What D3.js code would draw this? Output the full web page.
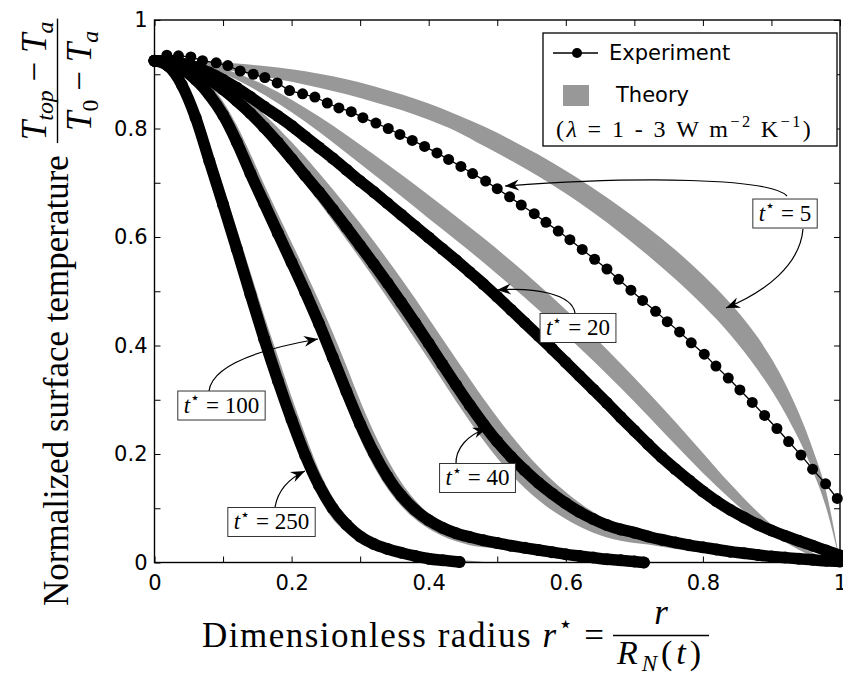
<!DOCTYPE html>
<html>
<head>
<meta charset="utf-8">
<script src="https://cdn.jsdelivr.net/npm/d3@7/dist/d3.min.js"></script>
<style>
html,body{margin:0;padding:0;background:#fff;}
svg{display:block;}
</style>
</head>
<body>
<svg id="chart" width="843" height="679"></svg>
<script>
// ---------------- data ----------------
const xTickValues = [0,0.1,0.2,0.3,0.4,0.5,0.6,0.7,0.8,0.9,1];
const xTickLabels = ["0","","0.2","","0.4","","0.6","","0.8","","1"];
const yTickValues = [0,0.1,0.2,0.3,0.4,0.5,0.6,0.7,0.8,0.9,1];
const yTickLabels = ["0","","0.2","","0.4","","0.6","","0.8","","1"];

// experiment t* = 5 (individual markers)
const exp5R = [0.001,0.018,0.035,0.053,0.070,0.090,0.107,0.125,0.144,0.161,0.179,0.197,0.216,0.234,0.252,0.269,0.287,0.304,0.323,0.341,0.358,0.376,0.394,0.412,0.429,0.447,0.464,0.483,0.500,0.518,0.535,0.554,0.571,0.589,0.606,0.624,0.642,0.660,0.677,0.695,0.712,0.731,0.748,0.766,0.783,0.802,0.819,0.837,0.854,0.872,0.890,0.908,0.925,0.943,0.960,0.979,0.996];
const exp5T = [0.925,0.935,0.934,0.932,0.925,0.921,0.916,0.906,0.900,0.894,0.884,0.870,0.864,0.858,0.847,0.838,0.831,0.820,0.810,0.800,0.789,0.778,0.767,0.755,0.743,0.730,0.717,0.703,0.689,0.674,0.659,0.643,0.627,0.611,0.595,0.577,0.559,0.541,0.522,0.502,0.483,0.463,0.444,0.425,0.405,0.384,0.362,0.340,0.318,0.295,0.271,0.247,0.223,0.198,0.172,0.145,0.118];

// dense experiments
const rGrid = [0,0.02,0.04,0.06,0.08,0.10,0.12,0.14,0.16,0.18,0.20,0.22,0.24,0.26,0.28,0.30,0.32,0.34,0.36,0.38,0.40,0.42,0.44,0.46,0.48,0.50,0.52,0.54,0.56,0.58,0.60,0.62,0.64,0.66,0.68,0.70,0.72,0.74,0.76,0.78,0.80,0.82,0.84,0.86,0.88,0.90,0.92,0.94,0.96,0.98,1.0];
const exp20T = [0.925,0.924,0.92,0.913,0.903,0.89,0.875,0.858,0.84,0.823,0.805,0.785,0.765,0.745,0.724,0.703,0.683,0.662,0.641,0.62,0.599,0.578,0.557,0.535,0.513,0.49,0.466,0.442,0.418,0.394,0.369,0.344,0.319,0.294,0.268,0.243,0.218,0.194,0.172,0.151,0.131,0.113,0.097,0.083,0.07,0.059,0.049,0.04,0.031,0.022,0.013];
const exp40T = [0.925,0.922,0.915,0.905,0.89,0.872,0.851,0.828,0.802,0.774,0.744,0.713,0.683,0.651,0.618,0.584,0.55,0.515,0.479,0.442,0.404,0.365,0.327,0.29,0.255,0.223,0.195,0.17,0.147,0.127,0.109,0.093,0.08,0.069,0.061,0.055,0.048,0.042,0.037,0.032,0.028,0.024,0.02,0.017,0.014,0.011,0.009,0.007,0.005,0.003,0.002];
const exp100R = [0,0.02,0.04,0.06,0.08,0.10,0.12,0.14,0.16,0.18,0.20,0.22,0.24,0.26,0.28,0.30,0.32,0.34,0.36,0.38,0.40,0.42,0.44,0.46,0.48,0.50,0.52,0.54,0.56,0.58,0.60,0.62,0.64,0.66,0.68,0.70,0.714];
const exp100T = [0.925,0.921,0.91,0.89,0.862,0.825,0.775,0.717,0.662,0.607,0.553,0.498,0.44,0.378,0.315,0.255,0.202,0.158,0.123,0.097,0.078,0.064,0.054,0.047,0.041,0.036,0.031,0.027,0.023,0.019,0.015,0.012,0.009,0.006,0.004,0.002,0.0];
const exp250R = [0,0.02,0.04,0.06,0.08,0.10,0.12,0.14,0.16,0.18,0.20,0.22,0.24,0.26,0.28,0.30,0.32,0.34,0.36,0.38,0.40,0.42,0.445];
const exp250T = [0.925,0.915,0.88,0.82,0.74,0.66,0.578,0.494,0.412,0.335,0.263,0.197,0.142,0.1,0.07,0.048,0.034,0.025,0.018,0.012,0.007,0.004,0.001];

// theory bands (lambda = 1 .. 3)
const band5R = [0,0.04,0.08,0.12,0.16,0.20,0.24,0.28,0.32,0.36,0.40,0.44,0.48,0.52,0.56,0.60,0.64,0.68,0.72,0.76,0.80,0.84,0.88,0.92,0.96,0.98,1.0];
const band5Hi = [0.925,0.925,0.923,0.920,0.915,0.909,0.901,0.891,0.878,0.863,0.846,0.826,0.804,0.779,0.752,0.722,0.69,0.655,0.617,0.576,0.53,0.478,0.415,0.33,0.21,0.13,0];
const band5Lo = [0.925,0.92,0.913,0.905,0.896,0.886,0.875,0.863,0.849,0.834,0.816,0.795,0.768,0.741,0.712,0.68,0.645,0.607,0.566,0.522,0.474,0.42,0.355,0.275,0.17,0.10,0];
const bandGrid = [0,0.04,0.08,0.12,0.16,0.20,0.24,0.28,0.32,0.36,0.40,0.44,0.48,0.52,0.56,0.60,0.64,0.68,0.72,0.76,0.80,0.84,0.88,0.92,0.96,1.0];
const band20Hi = [0.925,0.924,0.917,0.902,0.88,0.853,0.822,0.788,0.752,0.715,0.677,0.638,0.598,0.556,0.512,0.466,0.418,0.367,0.314,0.259,0.202,0.145,0.093,0.05,0.018,0];
const band20Lo = [0.925,0.922,0.91,0.89,0.862,0.83,0.794,0.755,0.715,0.675,0.634,0.594,0.553,0.51,0.466,0.42,0.372,0.322,0.27,0.217,0.165,0.117,0.074,0.038,0.012,0];
const band40Hi = [0.925,0.92,0.902,0.868,0.826,0.775,0.718,0.657,0.592,0.523,0.45,0.375,0.302,0.235,0.177,0.13,0.093,0.066,0.047,0.034,0.025,0.018,0.012,0.007,0.003,0];
const band40Lo = [0.92,0.91,0.882,0.84,0.788,0.728,0.664,0.595,0.524,0.45,0.374,0.297,0.225,0.163,0.115,0.08,0.055,0.04,0.033,0.025,0.018,0.013,0.008,0.005,0.002,0];
const band100R = [0,0.02,0.04,0.06,0.08,0.10,0.12,0.14,0.16,0.18,0.20,0.22,0.24,0.26,0.28,0.30,0.32,0.34,0.36,0.38,0.40,0.42,0.44,0.46,0.48,0.50,0.52,0.54,0.56,0.58,0.60,0.62,0.64,0.66,0.68,0.70];
const band100Hi = [0.925,0.924,0.917,0.903,0.882,0.85,0.806,0.753,0.697,0.643,0.59,0.537,0.482,0.424,0.362,0.298,0.24,0.19,0.148,0.115,0.09,0.071,0.056,0.045,0.036,0.029,0.023,0.018,0.013,0.009,0.006,0.004,0.002,0.001,0,0];
const band100Lo = [0.92,0.915,0.9,0.877,0.846,0.805,0.753,0.695,0.64,0.585,0.53,0.474,0.415,0.351,0.288,0.228,0.177,0.136,0.104,0.08,0.062,0.049,0.039,0.032,0.028,0.025,0.021,0.017,0.013,0.009,0.006,0.003,0.001,0,0,0];
const band250R = [0,0.02,0.04,0.06,0.08,0.10,0.12,0.14,0.16,0.18,0.20,0.22,0.24,0.26,0.28,0.30,0.32,0.34,0.36,0.38,0.40,0.42,0.44,0.46,0.48,0.50];
const band250Hi = [0.925,0.92,0.895,0.845,0.77,0.695,0.615,0.535,0.455,0.38,0.305,0.235,0.17,0.12,0.085,0.06,0.043,0.032,0.024,0.017,0.012,0.008,0.005,0.003,0.001,0];
const band250Lo = [0.92,0.905,0.86,0.795,0.715,0.635,0.555,0.47,0.39,0.315,0.245,0.175,0.12,0.08,0.055,0.038,0.027,0.019,0.013,0.008,0.004,0.002,0.001,0,0,0];

// annotation labels (data coordinates: box centre and arrow bezier control points)
const annLabels = ["5","20","40","100","250"];
const annBoxes = [[0.9198,0.6442],[0.6178,0.4332],[0.4712,0.1567],[0.0977,0.2903],[0.1707,0.0756]];
const annArrows = [
  [[0.9227,0.6756],[0.8979,0.7088],[0.7082,0.7124],[0.5113,0.694]],
  [[0.946,0.6147],[0.9417,0.548],[0.8906,0.4986],[0.8337,0.4691]],
  [[0.6134,0.4599],[0.609,0.495],[0.555,0.5078],[0.4996,0.5023]],
  [[0.4398,0.1797],[0.4384,0.2111],[0.4573,0.235],[0.485,0.2479]],
  [[0.0795,0.3161],[0.0839,0.3622],[0.1466,0.3917],[0.2385,0.412]],
  [[0.1758,0.1023],[0.1802,0.1336],[0.1977,0.1558],[0.2195,0.1687]]
];

// ---------------- drawing ----------------
const svg = d3.select("#chart");
const x = d3.scaleLinear().domain([0,1]).range([154.5,840]);
const y = d3.scaleLinear().domain([0,1]).range([562.5,20]);
const GRAY = "#989898";
const SERIF = "'Liberation Serif','Times New Roman',serif";
const SANS = "'DejaVu Sans','Liberation Sans',sans-serif";

svg.append("rect").attr("width",843).attr("height",679).attr("fill","#fff");

const defs = svg.append("defs");
defs.append("marker").attr("id","ah")
  .attr("viewBox","-15 -7 17 14").attr("refX",0).attr("refY",0)
  .attr("markerWidth",17).attr("markerHeight",14)
  .attr("markerUnits","userSpaceOnUse").attr("orient","auto")
  .append("path").attr("d","M0,0 L-14,-5.5 L-9.5,0 L-14,5.5 Z").attr("fill","#000");

// bands
const bandDefs = [
  {R: band5R, hi: band5Hi, lo: band5Lo},
  {R: bandGrid, hi: band20Hi, lo: band20Lo},
  {R: bandGrid, hi: band40Hi, lo: band40Lo},
  {R: band100R, hi: band100Hi, lo: band100Lo},
  {R: band250R, hi: band250Hi, lo: band250Lo}
];
const area = d3.area().x(d=>x(d.r)).y0(d=>y(d.lo)).y1(d=>y(d.hi)).curve(d3.curveMonotoneX);
svg.append("g").selectAll("path").data(bandDefs).join("path")
  .attr("d", b => area(b.R.map((r,i)=>({r:r, hi:b.hi[i], lo:b.lo[i]}))))
  .attr("fill", GRAY);

// experiments
const line = d3.line().x(d=>x(d[0])).y(d=>y(d[1])).curve(d3.curveMonotoneX);
const gExp = svg.append("g");
const dense = [
  {R: rGrid, T: exp20T}, {R: rGrid, T: exp40T},
  {R: exp100R, T: exp100T}, {R: exp250R, T: exp250T}
];
dense.forEach(s => {
  const pts = s.R.map((r,i)=>[r, s.T[i]]);
  gExp.append("path").attr("d", line(pts)).attr("fill","none")
    .attr("stroke","#000").attr("stroke-width",11.5)
    .attr("stroke-linecap","round").attr("stroke-linejoin","round");
  gExp.append("g").selectAll("circle").data(pts).join("circle")
    .attr("cx", d=>x(d[0])).attr("cy", d=>y(d[1])).attr("r",6).attr("fill","#000");
});
const pts5 = exp5R.map((r,i)=>[r, exp5T[i]]);
gExp.append("path").attr("d", d3.line().x(d=>x(d[0])).y(d=>y(d[1]))(pts5))
  .attr("fill","none").attr("stroke","#000").attr("stroke-width",1.3);
gExp.append("g").selectAll("circle").data(pts5).join("circle")
  .attr("cx", d=>x(d[0])).attr("cy", d=>y(d[1])).attr("r",5.5).attr("fill","#000");

// axes (ticks inward on all four sides)
function styleAxis(g){
  g.select(".domain").remove();
  g.selectAll(".tick line").attr("stroke","#000").attr("stroke-width",1);
  g.selectAll(".tick text").attr("font-family",SANS).attr("font-size",21).attr("fill","#000");
}
svg.append("g").attr("transform",`translate(0,${y(0)})`)
  .call(d3.axisBottom(x).tickValues(xTickValues).tickSize(-6).tickPadding(13)
        .tickFormat((d,i)=>xTickLabels[i])).call(styleAxis);
svg.append("g").attr("transform",`translate(${x(0)},0)`)
  .call(d3.axisLeft(y).tickValues(yTickValues).tickSize(-6).tickPadding(7)
        .tickFormat((d,i)=>yTickLabels[i])).call(styleAxis);
svg.append("g").attr("transform",`translate(0,${y(1)})`)
  .call(d3.axisTop(x).tickValues(xTickValues).tickSize(-6).tickFormat("")).call(styleAxis);
svg.append("g").attr("transform",`translate(${x(1)},0)`)
  .call(d3.axisRight(y).tickValues(yTickValues).tickSize(-6).tickFormat("")).call(styleAxis);
svg.append("rect").attr("x",x(0)).attr("y",y(1)).attr("width",x(1)-x(0)).attr("height",y(0)-y(1))
  .attr("fill","none").attr("stroke","#000").attr("stroke-width",1.4);

// math-ish text helper
function mathText(parent, parts, size, attrs){
  const t = parent.append("text").attr("font-family",SERIF).attr("font-size",size).attr("fill","#000");
  Object.entries(attrs||{}).forEach(([k,v])=>t.attr(k,v));
  let shift = 0;
  parts.forEach(p => {
    let target = 0, fs = size;
    if (p.sup){ target = -0.42*size; fs = 0.68*size; }
    if (p.sub){ target = 0.2*size; fs = 0.68*size; }
    t.append("tspan").text(p.t).attr("font-size",fs)
      .attr("font-style", p.it ? "italic" : "normal")
      .attr("dy", target - shift);
    shift = target;
  });
  return t;
}
// widen a text to a given length by letter spacing
function fitWidth(t, target){
  const n = t.text().length;
  const w = t.node().getComputedTextLength();
  if (w < target && n > 1) t.attr("letter-spacing", ((target - w)/n).toFixed(2));
}

// annotations
const gAnn = svg.append("g");
annArrows.forEach(a => {
  const p = a.map(d=>[x(d[0]), y(d[1])]);
  gAnn.append("path")
    .attr("d", `M${p[0][0]},${p[0][1]} C${p[1][0]},${p[1][1]} ${p[2][0]},${p[2][1]} ${p[3][0]},${p[3][1]}`)
    .attr("fill","none").attr("stroke","#000").attr("stroke-width",1.2)
    .attr("marker-end","url(#ah)");
});
annLabels.forEach((lab,i) => {
  const cx = x(annBoxes[i][0]), cy = y(annBoxes[i][1]);
  const g = gAnn.append("g");
  const t = mathText(g, [{t:"t",it:true},{t:"⋆",sup:true},{t:" = "+lab}], 23,
      {"text-anchor":"middle", x:cx, y:cy+8});
  const bb = t.node().getBBox();
  g.insert("rect","text").attr("x",cx - bb.width/2 - 6).attr("y",cy-14)
    .attr("width",bb.width+12).attr("height",29)
    .attr("fill","#fff").attr("stroke","#333").attr("stroke-width",1);
});

// legend
const lg = svg.append("g");
lg.append("rect").attr("x",543).attr("y",33).attr("width",294).attr("height",113)
  .attr("fill","#fff").attr("stroke","#000").attr("stroke-width",1.3);
lg.append("line").attr("x1",553).attr("x2",598).attr("y1",53).attr("y2",53)
  .attr("stroke","#000").attr("stroke-width",1.3);
lg.append("circle").attr("cx",577).attr("cy",53).attr("r",5).attr("fill","#000");
lg.append("text").attr("x",609).attr("y",60).attr("font-family",SANS).attr("font-size",21).text("Experiment");
lg.append("rect").attr("x",563).attr("y",85).attr("width",26).attr("height",21).attr("fill",GRAY);
lg.append("text").attr("x",616).attr("y",102).attr("font-family",SANS).attr("font-size",21).text("Theory");
const lam = mathText(lg, [{t:"("},{t:"λ",it:true},{t:" = 1 - 3 W m"},{t:"−2",sup:true},{t:" K"},{t:"−1",sup:true},{t:")"}], 24,
  {x:556, y:137});
fitWidth(lam, 257);

// x title
const xt = svg.append("g");
const xtText = mathText(xt, [{t:"Dimensionless radius "},{t:"r",it:true},{t:"⋆",sup:true},{t:" = "}], 35, {x:202, y:647});
fitWidth(xtText, 405);
const xtEnd = 202 + 405;
const xNum = mathText(xt, [{t:"r",it:true}], 35, {"text-anchor":"middle"});
const xDen = mathText(xt, [{t:"R",it:true},{t:"N",it:true,sub:true},{t:"("},{t:"t",it:true},{t:")"}], 34, {"text-anchor":"middle"});
fitWidth(xDen, 88);
const xFw = 96;
const xFc = xtEnd + 6 + xFw/2;
xNum.attr("x", xFc).attr("y", 624);
xDen.attr("x", xFc).attr("y", 664);
xt.append("line").attr("x1", xtEnd+6).attr("x2", xtEnd+6+xFw).attr("y1",635.5).attr("y2",635.5)
  .attr("stroke","#000").attr("stroke-width",1.4);

// y title (rotated)
const yt = svg.append("g").attr("transform","translate(68,606) rotate(-90)");
const ytText = mathText(yt, [{t:"Normalized surface temperature"}], 35, {x:0, y:0});
const ytEnd = ytText.node().getComputedTextLength();
const yNum = mathText(yt, [{t:"T",it:true},{t:"top",it:true,sub:true},{t:" − "},{t:"T",it:true},{t:"a",it:true,sub:true}], 35, {"text-anchor":"middle"});
const yDen = mathText(yt, [{t:"T",it:true},{t:"0",sub:true},{t:" − "},{t:"T",it:true},{t:"a",it:true,sub:true}], 35, {"text-anchor":"middle"});
const yFw = Math.max(yNum.node().getComputedTextLength(), yDen.node().getComputedTextLength()) + 6;
const yFc = ytEnd + 12 + yFw/2;
yNum.attr("x", yFc).attr("y", -22);
yDen.attr("x", yFc).attr("y", 23);
yt.append("line").attr("x1", ytEnd+12).attr("x2", ytEnd+12+yFw).attr("y1",-10.5).attr("y2",-10.5)
  .attr("stroke","#000").attr("stroke-width",1.4);
</script>
</body>
</html>
